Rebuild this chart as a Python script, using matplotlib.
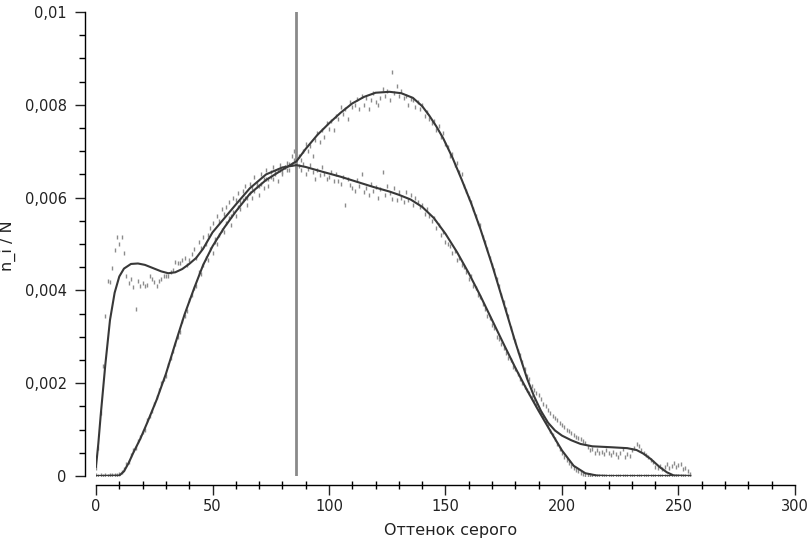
import matplotlib
matplotlib.use("Agg")
import matplotlib.pyplot as plt
import numpy as np

# ---------------- data ----------------
# smooth curve A (darker image), x in grey levels, y in units of 1e-5
curve_a_x = [0, 1, 2, 4, 6, 8, 10, 12, 15, 18, 21, 25, 28, 31, 34, 37, 40, 43, 46, 50,
             55, 60, 66, 73, 80, 86, 90, 97, 105, 112, 119, 126, 130, 135, 140, 145, 150,
             155, 160, 165, 170, 175, 180, 185, 190, 195, 200, 205, 210, 215, 220, 255]
curve_a_y = [20, 70, 130, 240, 336, 395, 430, 447, 457, 458, 455, 447, 441, 437, 439, 446, 457, 470, 490, 525,
             555, 585, 620, 650, 665, 670, 666, 656, 645, 634, 623, 613, 606, 596, 580, 556, 522,
             482, 437, 388, 336, 284, 233, 185, 140, 97, 55, 22, 6, 1, 0, 0]

# smooth curve B (brighter image)
curve_b_x = [0, 10, 12, 14, 16, 19, 22, 26, 30, 34, 38, 42, 46, 50, 55, 60, 66, 73, 80, 86,
             90, 95, 100, 105, 110, 115, 120, 126, 131, 136, 140, 143, 146, 149, 153, 157, 161,
             165, 170, 175, 180, 185, 188, 191, 194, 197, 200, 204, 208, 213, 221, 228, 232, 235,
             238, 240, 242, 245, 248, 255]
curve_b_y = [0, 1, 10, 28, 50, 80, 115, 164, 220, 285, 348, 403, 455, 495, 535, 570, 608, 638, 660, 678,
             705, 735, 760, 783, 803, 817, 826, 828, 825, 815, 797, 777, 754, 728, 686, 638, 588,
             532, 455, 372, 288, 210, 172, 140, 115, 98, 87, 77, 69, 64, 62, 60, 56, 48,
             37, 28, 19, 8, 1, 0]

# raw histogram points (one per grey level 0..255), units of 1e-5
dots_a = [18, 60, 136, 236, 345, 420, 419, 448, 487, 516, 500, 516, 480, 430, 415, 425, 408, 360, 420, 410,
          415, 410, 412, 430, 425, 418, 410, 420, 425, 430, 432, 430, 440, 445, 462, 458, 460, 465, 470, 455,
          466, 478, 490, 470, 505, 492, 515, 500, 520, 535, 545, 510, 560, 550, 575, 565, 580, 590, 560, 600,
          595, 610, 590, 615, 625, 600, 630, 620, 645, 630, 625, 650, 640, 660, 640, 655, 665, 650, 660, 670,
          655, 665, 675, 660, 672, 680, 665, 668, 660, 672, 650, 662, 670, 655, 640, 660, 648, 665, 650, 640,
          645, 655, 636, 650, 635, 630, 645, 584, 640, 628, 620, 615, 638, 625, 650, 612, 620, 605, 630, 615,
          622, 600, 618, 656, 605, 625, 610, 598, 620, 595, 612, 600, 590, 612, 595, 605, 585, 600, 590, 580,
          585, 565, 575, 560, 550, 555, 535, 540, 520, 525, 505, 500, 495, 480, 485, 465, 470, 455, 450, 440,
          425, 430, 410, 405, 390, 385, 370, 360, 345, 340, 325, 320, 300, 295, 285, 275, 265, 255, 250, 235,
          230, 220, 210, 200, 192, 185, 178, 170, 162, 152, 145, 135, 128, 118, 108, 98, 88, 80, 68, 58,
          50, 42, 35, 28, 22, 17, 12, 10, 7, 5, 3, 2, 2, 1, 0, 0, 0, 0, 0, 0,
          0, 0, 0, 0, 0, 0, 0, 0, 0, 0, 0, 0, 0, 0, 0, 0, 0, 0, 0, 0,
          0, 0, 0, 0, 0, 0, 0, 0, 0, 0, 0, 0, 0, 0, 0, 0]

dots_b = [2, 1, 2, 1, 2, 1, 2, 2, 3, 3, 5, 8, 15, 25, 30, 45, 55, 60, 75, 85,
          95, 100, 120, 130, 140, 155, 170, 185, 200, 210, 215, 240, 255, 270, 285, 300, 310, 335, 345, 355,
          380, 390, 405, 410, 440, 435, 455, 470, 465, 490, 480, 505, 500, 520, 530, 525, 545, 555, 540, 570,
          560, 580, 575, 595, 600, 585, 610, 600, 615, 625, 605, 630, 620, 640, 625, 645, 640, 655, 635, 660,
          650, 665, 660, 672, 690, 700, 685, 690, 680, 700, 715, 700, 712, 690, 725, 740, 720, 745, 730, 760,
          748, 765, 745, 775, 770, 795, 780, 790, 770, 805, 795, 800, 812, 790, 820, 800, 815, 790, 810, 825,
          805, 800, 815, 835, 820, 830, 810, 870, 825, 840, 820, 830, 815, 820, 800, 812, 810, 795, 805, 790,
          800, 775, 785, 770, 760, 765, 745, 755, 730, 740, 715, 710, 690, 695, 670, 675, 655, 650, 625, 615,
          600, 590, 575, 560, 545, 540, 515, 505, 490, 470, 455, 445, 425, 410, 390, 375, 360, 345, 320, 300,
          290, 270, 260, 245, 230, 215, 210, 195, 185, 178, 175, 165, 155, 150, 142, 135, 130, 125, 120, 115,
          110, 105, 100, 96, 92, 88, 85, 82, 80, 76, 72, 62, 55, 58, 50, 55, 50, 52, 48, 55,
          50, 45, 52, 48, 42, 50, 58, 40, 48, 44, 55, 60, 70, 65, 55, 50, 45, 40, 35, 30,
          20, 18, 22, 15, 20, 25, 18, 22, 28, 20, 24, 25, 16, 18, 10, 5]

y_unit = 1e-5
vline_x = 86

x_ticks = [0, 50, 100, 150, 200, 250, 300]
y_ticks = [0, 0.002, 0.004, 0.006, 0.008, 0.01]
y_tick_labels = ["0", "0,002", "0,004", "0,006", "0,008", "0,01"]
x_label = "Оттенок серого"
y_label = "n_i / N"

# ---------------- plot ----------------
fig = plt.figure(figsize=(8.10, 5.44), dpi=100)
ax = fig.add_axes([96 / 810, 68 / 544, 699 / 810, 464 / 544])

levels = np.arange(len(dots_a))
for dots in (dots_a, dots_b):
    ax.scatter(levels, np.array(dots) * y_unit, s=5, marker="|", color="#8c8c8c",
               linewidths=1.0, zorder=1)

ax.plot(curve_a_x, np.array(curve_a_y) * y_unit, color="#383838", lw=1.5, zorder=3,
        solid_joinstyle="round")
ax.plot(curve_b_x, np.array(curve_b_y) * y_unit, color="#383838", lw=1.5, zorder=3,
        solid_joinstyle="round")

ax.plot([vline_x, vline_x], [0, 0.01], color="#8a8a8a", lw=2, zorder=2)

ax.set_xlim(0, 300)
ax.set_ylim(0, 0.01)

for s in ("top", "right"):
    ax.spines[s].set_visible(False)
ax.spines["left"].set_position(("outward", 8))
ax.spines["bottom"].set_position(("outward", 6.5))
ax.spines["left"].set_linewidth(1.0)
ax.spines["bottom"].set_linewidth(1.0)

ax.set_xticks(x_ticks)
ax.set_xticklabels([str(v) for v in x_ticks])
ax.set_yticks(y_ticks)
ax.set_yticklabels(y_tick_labels)
ax.set_xticks(np.arange(0, 301, 10), minor=True)
ax.set_yticks(np.arange(0, 0.01001, 0.0005), minor=True)

ax.tick_params(axis="both", which="major", labelsize=10.5, colors="#222222", width=1.0)
ax.tick_params(axis="y", which="major", direction="out", length=7, pad=6)
ax.tick_params(axis="y", which="minor", direction="out", length=4, width=1.0)
ax.tick_params(axis="x", which="major", direction="out", length=7, pad=3)
ax.tick_params(axis="x", which="minor", direction="inout", length=6, width=1.0)

ax.set_xlabel(x_label, fontsize=11.5, color="#222222")
ax.set_ylabel(y_label, fontsize=11.5, color="#222222")
ax.xaxis.set_label_coords((451 - 96) / 699, -(523 - 476) / 464)
ax.yaxis.set_label_coords((16 - 96) / 699, (476 - 246) / 464)

fig.savefig("out.png", dpi=100)
